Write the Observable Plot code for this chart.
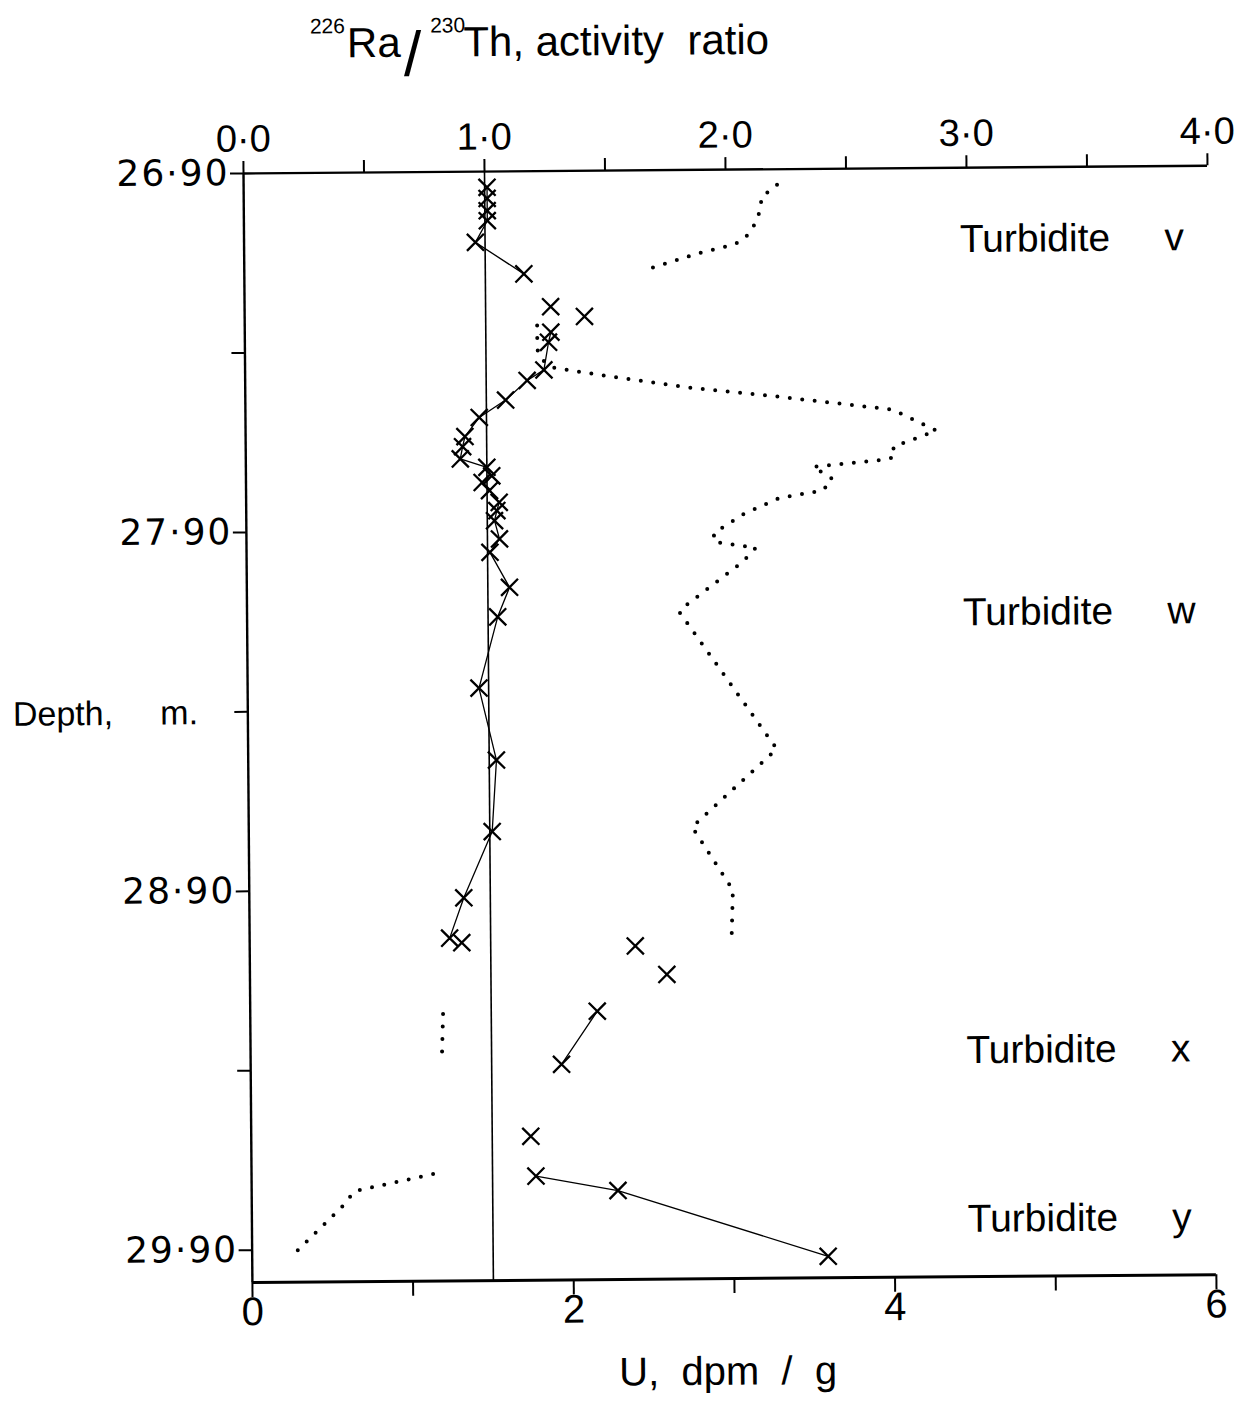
<!DOCTYPE html>
<html>
<head>
<meta charset="utf-8">
<script src="https://cdn.jsdelivr.net/npm/d3@7"></script>
<script src="https://cdn.jsdelivr.net/npm/@observablehq/plot@0.6"></script>
<style>
  html, body { margin: 0; padding: 0; background: #fff; }
  /* the whole figure sits very slightly tilted, as on the printed page */
  #figure {
    position: relative; width: 1249px; height: 1401px;
    transform: rotate(-0.46deg); transform-origin: 243px 173px;
    font-family: "Liberation Sans", Arial, sans-serif; color: #000;
  }
  #title { position: relative; height: 90px; }
  #title .line {
    position: absolute; left: 311px; top: 23.4px;
    font-size: 42px; line-height: 42px; white-space: pre;
  }
  #title sup { font-size: 21px; vertical-align: 24px; line-height: 0; }
  #title .iso1 { margin-right: 2px; }
  #title .iso2 { margin-left: 9px; margin-right: -2px; }
  #title .slash { font-size: 63px; vertical-align: -19px; line-height: 0; margin-left: 3px; }
  svg { display: block; }
</style>
</head>
<body>
<div id="figure">
  <div id="title"><div class="line"><sup class="iso1">226</sup>Ra<span class="slash">/</span><sup class="iso2">230</sup>Th, activity  ratio</div></div>
</div>
<script>
// 226Ra/230Th activity ratio (crosses) and uranium content (dotted trace) down the core.

// Activity ratio measurements: depth (m), ratio, and which run of points is joined by a line
const crossDepth = [26.944, 26.975, 27.009, 27.037, 27.097, 27.186,
                    27.278, 27.306,
                    27.349, 27.377, 27.454, 27.483, 27.537, 27.585, 27.638, 27.666, 27.700,
                    27.724, 27.748, 27.766, 27.789, 27.822, 27.845, 27.873, 27.924, 27.961,
                    28.059, 28.141, 28.339, 28.540, 28.739, 28.923, 29.035,
                    29.048, 29.061, 29.141,
                    29.242, 29.389,
                    29.589,
                    29.700, 29.742, 29.930];
const crossRatio = [1.01, 1.01, 1.01, 1.01, 0.96, 1.16,
                    1.27, 1.41,
                    1.27, 1.26, 1.24, 1.17, 1.08, 0.97, 0.91, 0.90, 0.89,
                    1.00, 1.02, 0.98, 1.01, 1.05, 1.04, 1.03, 1.05, 1.01,
                    1.09, 1.04, 0.96, 1.03, 1.01, 0.89, 0.83,
                    0.88, 1.60, 1.73,
                    1.44, 1.29,
                    1.16,
                    1.18, 1.52, 2.39];
const crossRun = ["a", "a", "a", "a", "a", "a",
                  "", "",
                  "b", "b", "b", "b", "b", "b", "b", "b", "b",
                  "b", "b", "b", "b", "b", "b", "b", "b", "b",
                  "b", "b", "b", "b", "b", "b", "b",
                  "", "", "",
                  "c", "c",
                  "",
                  "d", "d", "d"];

// Uranium profile (dpm/g), one dotted trace per turbidite
const uDepth = [26.943, 26.979, 27.009, 27.071, 27.093, 27.109, 27.131, 27.177,
                27.330, 27.397, 27.426, 27.448, 27.454, 27.472, 27.507, 27.528, 27.567, 27.573,
                27.632, 27.676, 27.704, 27.712, 27.730, 27.764, 27.796, 27.816, 27.859, 27.912,
                27.937, 27.954, 27.974, 27.999, 28.114, 28.131, 28.515, 28.731, 28.907, 29.038,
                29.246, 29.377,
                29.692, 29.738, 29.782, 29.912];
const uValue = [3.32, 3.22, 3.22, 3.16, 3.11, 3.05, 2.84, 2.50,
                1.82, 1.82, 1.85, 1.92, 2.00, 2.25, 2.77, 3.21, 3.93, 4.03,
                4.30, 4.03, 4.04, 3.97, 3.53, 3.65, 3.59, 3.32, 3.10, 2.91,
                2.91, 3.17, 3.13, 3.07, 2.73, 2.69, 3.29, 2.76, 3.01, 3.00,
                1.20, 1.19,
                1.13, 0.64, 0.56, 0.26];
const uRun = ["v", "v", "v", "v", "v", "v", "v", "v",
              "w", "w", "w", "w", "w", "w", "w", "w", "w", "w",
              "w", "w", "w", "w", "w", "w", "w", "w", "w", "w",
              "w", "w", "w", "w", "w", "w", "w", "w", "w", "w",
              "x", "x",
              "y", "y", "y", "y"];

// Turbidite units and the depth at which each name is written
const turbiditeNames = ["v", "w", "x", "y"];
const turbiditeDepths = [27.10, 28.14, 29.36, 29.83];

// Axes
const ratioTicks = [0, 1, 2, 3, 4];
const ratioMinorTicks = [0, 0.5, 1, 1.5, 2, 2.5, 3, 3.5, 4];
const depthTicks = [26.9, 27.9, 28.9, 29.9];
const depthMinorTicks = [26.9, 27.4, 27.9, 28.4, 28.9, 29.4, 29.9];
const uTicks = [0, 2, 4, 6];
const uMinorTicks = [0, 1, 2, 3, 4, 5, 6];
const depthTop = 26.9;
const depthBottom = 29.99;
const equilibrium = 1.0;

// The lower U axis shares the frame: 6 dpm/g spans the same width as a ratio of 4.0
const U_PER_RATIO = 1.5;

const crosses = crossDepth.map((depth, i) => ({depth, ratio: crossRatio[i], run: crossRun[i]}));
const uranium = uDepth.map((depth, i) => ({depth, u: uValue[i], run: uRun[i]}));
const turbidites = turbiditeNames.map((name, i) => ({name, depth: turbiditeDepths[i]}));

const dot = (s) => s.replace(".", "\u00b7");
const fmtRatio = (d) => dot(d.toFixed(1));
const fmtDepth = (d) => dot(d.toFixed(2));
const nb = "\u00a0";
const uLabel = `U,${nb} dpm${nb} /${nb} g`;

const chart = Plot.plot({
  width: 1249,
  height: 1311,
  marginTop: 83,
  marginBottom: 119,
  marginLeft: 243,
  marginRight: 42,
  x: {domain: [0, 4], axis: null},
  y: {domain: [depthTop, depthBottom], reverse: true, axis: null},
  style: {fontFamily: "Liberation Sans, Arial, sans-serif", background: "transparent", overflow: "visible", color: "black"},
  marks: [
    // secular equilibrium line
    Plot.ruleX([equilibrium], {stroke: "black", strokeWidth: 1.6}),

    // frame: left, top, bottom
    Plot.ruleX([0], {stroke: "black", strokeWidth: 2.4}),
    Plot.ruleY([depthTop], {stroke: "black", strokeWidth: 2.4}),
    Plot.ruleY([depthBottom], {stroke: "black", strokeWidth: 3}),

    // top ratio axis
    Plot.ruleX(ratioMinorTicks, {x: d => d, y1: () => depthTop, y2: () => depthTop, insetTop: -12, stroke: "black", strokeWidth: 2}),
    Plot.text(ratioTicks, {x: d => d, y: () => depthTop, text: fmtRatio, lineAnchor: "bottom", dy: -22, fontSize: 38}),

    // depth axis
    Plot.ruleY(depthMinorTicks, {y: d => d, x1: () => 0, x2: () => 0, insetLeft: -13, stroke: "black", strokeWidth: 2}),
    Plot.text(depthTicks, {x: () => 0, y: d => d, text: fmtDepth, textAnchor: "end", dx: -14, fontSize: 36,
      fontFamily: "DejaVu Sans, sans-serif"}),
    Plot.text([`Depth,${nb}${nb}${nb}${nb} m.`], {frameAnchor: "left", textAnchor: "start", dx: -235, dy: -15, fontSize: 34}),

    // bottom U axis
    Plot.ruleX(uMinorTicks, {x: d => d / U_PER_RATIO, y1: () => depthBottom, y2: () => depthBottom, insetBottom: -15, stroke: "black", strokeWidth: 2}),
    Plot.text(uTicks, {x: d => d / U_PER_RATIO, y: () => depthBottom, text: d => String(d), dy: 30, fontSize: 40}),
    Plot.text([uLabel], {frameAnchor: "bottom", dx: -7, dy: 106, fontSize: 40}),

    // uranium trace (dotted)
    Plot.line(uranium, {x: d => d.u / U_PER_RATIO, y: "depth", z: "run", stroke: "black", strokeWidth: 4,
      strokeDasharray: "0 12.5", strokeLinecap: "round", strokeLinejoin: "round"}),

    // activity ratio: joined runs and crosses
    Plot.line(crosses.filter(d => d.run), {x: "ratio", y: "depth", z: "run", stroke: "black", strokeWidth: 1.3}),
    Plot.dot(crosses, {x: "ratio", y: "depth", symbol: "times", r: 7.8, stroke: "black", strokeWidth: 2.3}),

    // turbidite names
    Plot.text(turbidites, {x: () => 2.97, y: "depth", text: d => `Turbidite${nb.repeat(5)}${d.name}`, textAnchor: "start", fontSize: 39})
  ]
});

document.getElementById("figure").appendChild(chart);

// slightly extended spacing of the depth numbers
const depthLabelSet = new Set(depthTicks.map(fmtDepth));
d3.select(chart).selectAll("text")
  .filter(function () { return depthLabelSet.has(this.textContent); })
  .style("letter-spacing", "2px");
</script>
</body>
</html>
